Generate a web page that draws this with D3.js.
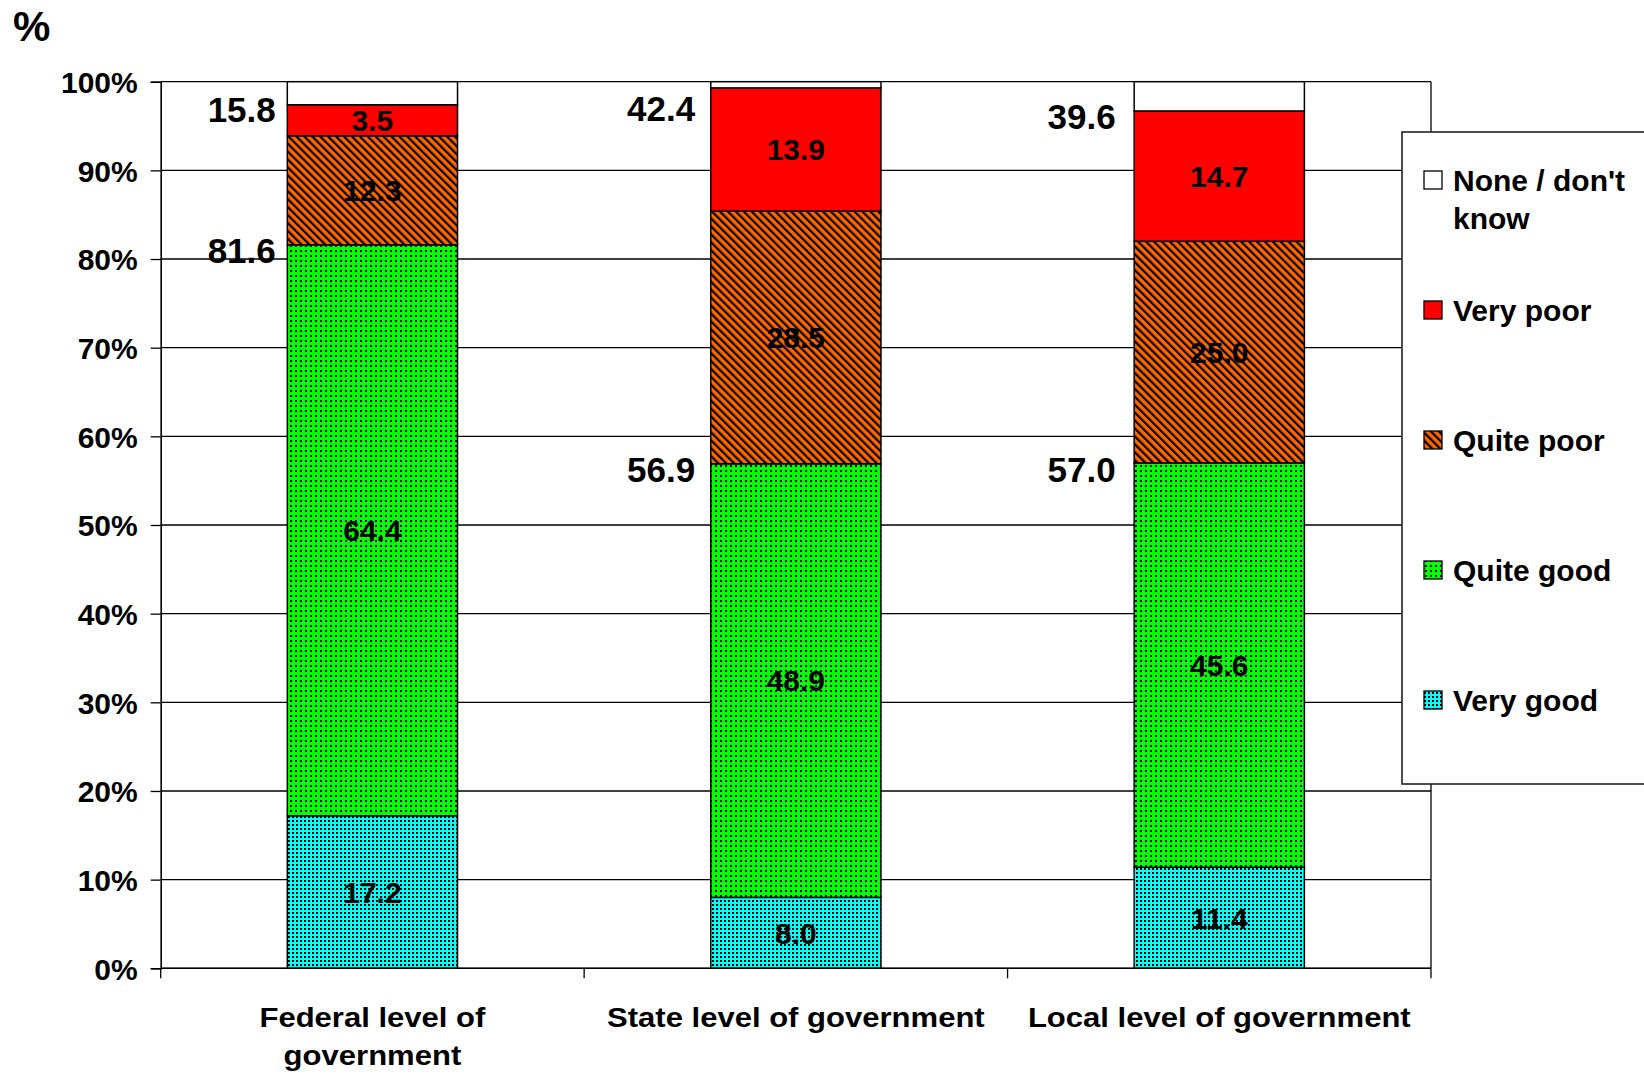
<!DOCTYPE html>
<html>
<head>
<meta charset="utf-8">
<script src="https://cdn.jsdelivr.net/npm/d3@7"></script>
<style>
  html, body { margin: 0; padding: 0; background: #fff; }
  svg { display: block; }
  text { font-family: "Liberation Sans", Arial, Helvetica, sans-serif; font-weight: bold; fill: #000; }
</style>
</head>
<body>
<svg id="chart" width="1644" height="1076"></svg>
<script>
// ---------------- DATA ----------------
const categories = ["Federal level of government", "State level of government", "Local level of government"];
const categoryLines = [["Federal level of", "government"], ["State level of government"], ["Local level of government"]];
const seriesKeys = ["veryGood", "quiteGood", "quitePoor", "veryPoor", "none"];
const seriesNames = ["Very good", "Quite good", "Quite poor", "Very poor", "None / don't know"];
const veryGood  = [17.2, 8.0, 11.4];
const quiteGood = [64.4, 48.9, 45.6];
const quitePoor = [12.3, 28.5, 25.0];
const veryPoor  = [3.5, 13.9, 14.7];
const noneDK    = [2.6, 0.7, 3.3];
const goodTotals = [81.6, 56.9, 57.0];
const poorTotals = [15.8, 42.4, 39.6];
const yTickValues = [0, 10, 20, 30, 40, 50, 60, 70, 80, 90, 100];
const yTickLabels = ["0%", "10%", "20%", "30%", "40%", "50%", "60%", "70%", "80%", "90%", "100%"];
const legendOrder = ["none", "veryPoor", "quitePoor", "quiteGood", "veryGood"];
const legendLines = { none: ["None / don't", "know"], veryPoor: ["Very poor"], quitePoor: ["Quite poor"], quiteGood: ["Quite good"], veryGood: ["Very good"] };

// table for d3.stack
const table = categories.map((c, i) => ({
  cat: c, veryGood: veryGood[i], quiteGood: quiteGood[i], quitePoor: quitePoor[i], veryPoor: veryPoor[i], none: noneDK[i]
}));

// ---------------- LAYOUT ----------------
const svg = d3.select("#chart");
const plot = { left: 160.7, right: 1431, top: 81.7, bottom: 968.3 };

const x = d3.scaleBand().domain(categories).range([plot.left, plot.right]).padding(0);
const barW = x.bandwidth() * 0.402;
const y = d3.scaleLinear().domain([0, 100]).range([plot.bottom, plot.top]);

// ---------------- PATTERNS ----------------
const defs = svg.append("defs");
function stripePattern(id) {
  const p = defs.append("pattern").attr("id", id).attr("patternUnits", "userSpaceOnUse")
    .attr("width", 5.6).attr("height", 5.6).attr("patternTransform", "rotate(-45)");
  p.append("rect").attr("width", 5.6).attr("height", 5.6).attr("fill", "#FF6600");
  p.append("rect").attr("width", 2.2).attr("height", 5.6).attr("fill", "#000");
}
function dotPattern(id, color, period, dot) {
  const p = defs.append("pattern").attr("id", id).attr("patternUnits", "userSpaceOnUse")
    .attr("width", period).attr("height", period);
  p.append("rect").attr("width", period).attr("height", period).attr("fill", color);
  p.append("rect").attr("x", 0).attr("y", 0).attr("width", dot).attr("height", dot).attr("fill", "#000");
}
stripePattern("pQuitePoor");
dotPattern("pQuiteGood", "#00FF00", 5, 2);
dotPattern("pVeryGood", "#00FFFF", 4, 2);

const fills = { veryGood: "url(#pVeryGood)", quiteGood: "url(#pQuiteGood)", quitePoor: "url(#pQuitePoor)", veryPoor: "#FF0000", none: "#FFFFFF" };

// ---------------- GRID & AXES ----------------
const grid = svg.append("g");
grid.selectAll("line").data(yTickValues).join("line")
  .attr("x1", plot.left).attr("x2", plot.right)
  .attr("y1", d => y(d)).attr("y2", d => y(d))
  .attr("stroke", "#000").attr("stroke-width", 1.3);
// right border
svg.append("line").attr("x1", plot.right).attr("x2", plot.right)
  .attr("y1", plot.top).attr("y2", plot.bottom).attr("stroke", "#000").attr("stroke-width", 1.3);

// ---------------- BARS ----------------
const stack = d3.stack().keys(seriesKeys);
const layers = stack(table);

const barG = svg.append("g");
layers.forEach(layer => {
  barG.append("g").selectAll("rect").data(layer).join("rect")
    .attr("x", d => x(d.data.cat) + (x.bandwidth() - barW) / 2)
    .attr("width", barW)
    .attr("y", d => y(d[1]))
    .attr("height", d => y(d[0]) - y(d[1]))
    .attr("fill", fills[layer.key])
    .attr("stroke", "#000").attr("stroke-width", 1.5);
});

// inner labels
layers.filter(l => l.key !== "none").forEach(layer => {
  barG.append("g").selectAll("text").data(layer).join("text")
    .attr("x", d => x(d.data.cat) + x.bandwidth() / 2)
    .attr("y", d => (y(d[0]) + y(d[1])) / 2)
    .attr("dy", "0.36em")
    .attr("text-anchor", "middle")
    .style("font-size", "30px")
    .text(d => d3.format(".1f")(d.data[layer.key]));
});

// outside total labels
const outG = svg.append("g");
const outOffset = [81, 77, 74];
outG.selectAll("text.good").data(categories).join("text").attr("class", "good")
  .attr("x", (c, i) => x(c) + outOffset[i])
  .attr("y", (c, i) => y(goodTotals[i]) + 6)
  .attr("dy", "0.36em").attr("text-anchor", "middle")
  .style("font-size", "35px")
  .text((c, i) => d3.format(".1f")(goodTotals[i]));
outG.selectAll("text.poor").data(categories).join("text").attr("class", "poor")
  .attr("x", (c, i) => x(c) + outOffset[i])
  .attr("y", (c, i) => Math.max(y(goodTotals[i] + poorTotals[i]) + 5, 108))
  .attr("dy", "0.36em").attr("text-anchor", "middle")
  .style("font-size", "35px")
  .text((c, i) => d3.format(".1f")(poorTotals[i]));

// y axis
const yAxis = d3.axisLeft(y).tickValues(yTickValues).tickSize(10).tickPadding(13)
  .tickFormat((d, i) => yTickLabels[i]);
const yg = svg.append("g").attr("transform", `translate(${plot.left},0)`).call(yAxis);
yg.select(".domain").attr("stroke", "#000").attr("stroke-width", 1.6);
yg.selectAll(".tick line").attr("stroke", "#000").attr("stroke-width", 1.3);
yg.selectAll(".tick text").style("font-size", "30px").style("font-family", "'Liberation Sans', Arial, sans-serif")
  .style("font-weight", "bold").attr("fill", "#000").attr("dy", "0.36em");

// x axis
const xg = svg.append("g").attr("transform", `translate(0,${plot.bottom})`);
xg.append("line").attr("x1", plot.left).attr("x2", plot.right).attr("y1", 0).attr("y2", 0)
  .attr("stroke", "#000").attr("stroke-width", 1.6);
const boundaries = categories.map(c => x(c)).concat([plot.right]);
xg.selectAll("line.tk").data(boundaries).join("line").attr("class", "tk")
  .attr("x1", d => d).attr("x2", d => d).attr("y1", 0).attr("y2", 10)
  .attr("stroke", "#000").attr("stroke-width", 1.3);
categories.forEach((c, i) => {
  const cx = x(c) + x.bandwidth() / 2;
  categoryLines[i].forEach((ln, j) => {
    svg.append("text")
      .attr("transform", `translate(${cx},${1027 + j * 38}) scale(1.15,1)`)
      .attr("text-anchor", "middle")
      .style("font-size", "27px")
      .text(ln);
  });
});

// "%" title
svg.append("text").attr("x", 13).attr("y", 41).style("font-size", "42px").text("%");

// ---------------- LEGEND ----------------
const lg = svg.append("g");
lg.append("rect").attr("x", 1402).attr("y", 132).attr("width", 270).attr("height", 652)
  .attr("fill", "#fff").attr("stroke", "#222").attr("stroke-width", 1.6);
const legendY = d3.scalePoint().domain(legendOrder).range([180, 700]);
legendOrder.forEach(k => {
  const cy = legendY(k);
  lg.append("rect").attr("x", 1424).attr("y", cy - 9).attr("width", 18).attr("height", 18)
    .attr("fill", fills[k]).attr("stroke", "#000").attr("stroke-width", 1.3);
  legendLines[k].forEach((ln, j) => {
    lg.append("text").attr("x", 1453).attr("y", cy + j * 38).attr("dy", "0.36em")
      .style("font-size", "30px").text(ln);
  });
});
</script>
</body>
</html>
